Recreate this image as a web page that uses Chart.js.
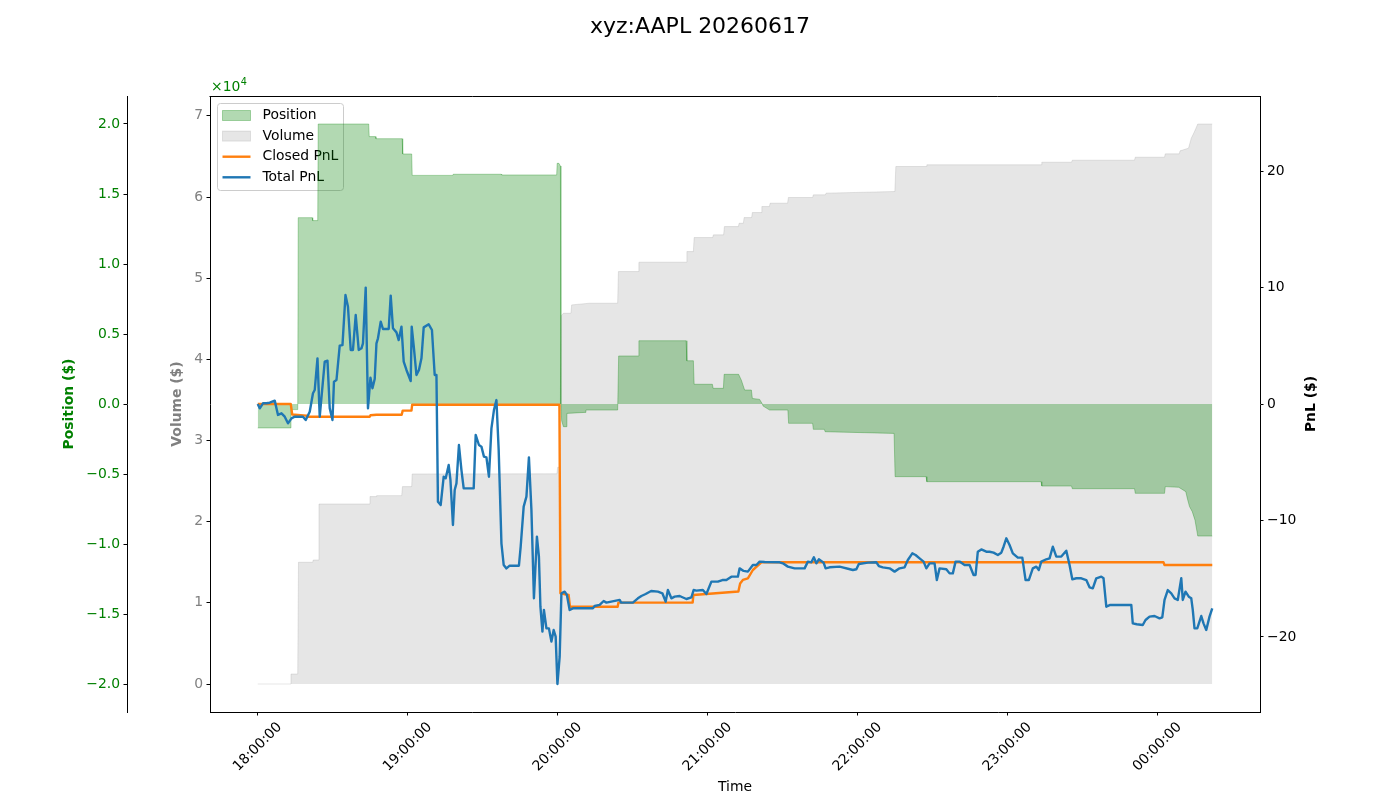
<!DOCTYPE html>
<html>
<head>
<meta charset="utf-8">
<title>xyz:AAPL 20260617</title>
<script src="https://cdn.jsdelivr.net/npm/chart.js@4.4.1/dist/chart.umd.min.js"></script>
<style>
  html, body { margin: 0; padding: 0; background: #fff; }
  #wrap { width: 1400px; height: 800px; }
</style>
</head>
<body>
<div id="wrap"><canvas id="pnl-chart" width="1400" height="800"></canvas></div>
<script>
const chartTitle = 'xyz:AAPL 20260617';

// x values are minutes after 18:00:00
const positionMinutes = [0, 13.1, 13.3, 16.0, 16.2, 21.8, 22.0, 24.0, 24.2, 44.4, 44.6, 47.1, 47.3, 57.8, 58.0, 61.6, 61.8, 78.0, 78.2, 97.4, 97.6, 119.6, 119.8, 120.5, 121.1, 121.3, 121.6, 122.3, 123.4, 123.7, 131.0, 131.3, 144.0, 144.4, 152.2, 152.5, 171.4, 171.7, 174.3, 174.6, 181.9, 182.2, 186.3, 186.6, 192.4, 193.5, 194.8, 197.5, 197.9, 200.8, 201.9, 202.2, 204.8, 212.1, 212.4, 222.0, 222.3, 226.7, 227.0, 254.6, 255.0, 267.4, 267.7, 313.4, 313.7, 325.6, 325.9, 350.8, 351.1, 362.8, 363.1, 368.5, 371.3, 372.0, 372.8, 373.9, 375.0, 376.1, 381.9];
const positionValues = [-1710, -1710, -400, -400, 13310, 13310, 13100, 13100, 20000, 20000, 19100, 19100, 18950, 18950, 17860, 17860, 16330, 16330, 16410, 16410, 16360, 16360, 17190, 17190, 17000, 0, -1200, -1620, -1620, -670, -600, -430, -430, 3430, 3430, 4520, 4520, 3090, 3090, 1410, 1410, 1120, 1120, 2120, 2120, 1700, 1000, 1000, 400, 330, 0, -150, -430, -430, -1380, -1380, -1810, -1810, -1980, -2100, -5190, -5190, -5550, -5550, -5860, -5860, -6050, -6050, -6380, -6380, -5900, -5950, -6260, -6800, -7330, -7690, -8300, -9430, -9430];

const volumeMinutes = [0, 13.1, 13.3, 16.0, 16.3, 22.0, 22.2, 24.2, 24.5, 44.7, 44.9, 47.4, 47.6, 57.6, 57.9, 61.6, 61.8, 119.7, 120.0, 120.8, 121.4, 122.3, 125.3, 125.6, 132.8, 144.0, 144.3, 152.2, 152.5, 171.4, 171.7, 174.3, 174.6, 182.0, 182.3, 186.4, 186.7, 192.3, 192.6, 194.3, 194.6, 197.6, 197.9, 201.4, 201.7, 204.7, 205.0, 212.0, 212.3, 222.0, 222.3, 227.1, 227.4, 254.9, 255.3, 267.4, 267.7, 313.4, 313.7, 325.6, 325.9, 350.8, 351.1, 362.8, 363.1, 368.7, 369.0, 372.4, 373.5, 374.8, 376.1, 381.9];
const volumeValues = [0, 0, 1230, 1230, 15000, 15000, 15280, 15280, 22180, 22180, 23090, 23090, 23210, 23210, 24320, 24320, 25880, 25900, 26700, 26700, 45390, 45680, 45680, 46710, 46920, 46920, 50820, 50820, 51970, 51970, 53280, 53280, 55010, 55010, 55340, 55340, 56360, 56360, 56770, 56770, 57470, 57470, 58090, 58090, 58830, 58830, 59240, 59240, 59940, 59940, 60270, 60270, 60480, 60680, 63760, 63760, 63970, 63970, 64290, 64290, 64540, 64540, 64910, 64910, 65320, 65320, 65690, 66020, 67250, 68070, 69000, 69000];

const closedMinutes = [0, 13.2, 13.8, 19.4, 19.6, 44.8, 45.1, 47.5, 57.6, 58.0, 61.5, 61.8, 120.7, 121.1, 124.4, 124.9, 144.0, 144.3, 174.0, 174.3, 192.3, 193.0, 194.1, 196.1, 198.1, 201.5, 362.4, 362.8, 381.9];
const closedPnl = [0, 0, -0.9, -1.0, -1.09, -1.09, -0.97, -0.92, -0.92, -0.57, -0.57, -0.06, -0.06, -16.25, -16.4, -17.4, -17.4, -17.05, -17.05, -16.4, -16.1, -15.4, -15.1, -14.96, -14.25, -13.59, -13.59, -13.82, -13.82];

const totalMinutes = [0, 0.8, 2.1, 3.5, 4.8, 6.8, 8.1, 9.5, 10.8, 12.1,
  13.5, 14.8, 18.1, 19.2, 20.8, 22.1, 22.8, 23.9, 24.8, 26.8,
  27.9, 28.8, 29.9, 30.5, 31.5, 32.8, 33.9, 35.1, 36.1, 37.2,
  38.1, 39.2, 40.4, 41.5, 42.1, 43.2, 44.1, 45.1, 45.9, 46.8,
  47.5, 48.1, 49.2, 50.1, 52.4, 53.2, 54.1, 55.5, 56.4, 57.5,
  58.4, 59.5, 61.2, 61.6, 62.5, 63.5, 64.5, 65.5, 66.4, 68.4,
  69.7, 70.8, 71.5, 72.1, 73.2, 74.4, 75.2, 76.4, 77.1, 78.1,
  78.8, 79.5, 80.5, 81.5, 82.4, 86.4, 87.2, 88.5, 89.5, 90.5,
  91.5, 92.5, 93.5, 94.5, 95.5, 96.4, 97.5, 98.4, 99.5, 100.8,
  104.5, 105.2, 106.4, 107.5, 108.5, 109.5, 110.5, 111.7, 112.5, 113.1,
  113.9, 114.5, 115.5, 116.5, 117.5, 118.4, 119.2, 119.9, 120.8, 121.5,
  122.8, 123.7, 124.8, 126.1, 134.1, 134.8, 136.8, 138.4, 139.5, 144.8,
  145.4, 150.1, 152.1, 153.5, 155.2, 157.4, 160.1, 161.9, 163.2, 164.1,
  165.5, 166.8, 168.8, 171.5, 173.5, 174.4, 175.5, 178.1, 179.5, 181.5,
  184.1, 185.9, 187.5, 189.5, 192.1, 192.8, 194.4, 196.1, 198.1, 199.5,
  200.8, 202.8, 208.8, 210.1, 212.1, 214.8, 218.8, 220.1, 221.5, 222.5,
  223.5, 224.5, 226.4, 227.2, 228.8, 232.8, 238.1, 239.5, 240.5, 244.1,
  247.5, 248.5, 250.1, 252.8, 254.8, 256.8, 258.8, 260.1, 261.9, 263.2,
  264.8, 266.4, 267.5, 268.8, 270.8, 271.7, 272.8, 275.5, 276.8, 278.1,
  279.2, 280.8, 282.8, 284.8, 286.4, 287.2, 288.1, 289.5, 291.5, 292.8,
  294.4, 296.1, 297.5, 298.4, 299.5, 300.8, 302.1, 304.1, 305.9, 307.2,
  308.5, 310.1, 311.5, 312.5, 313.5, 315.5, 316.8, 318.1, 319.5, 321.5,
  323.5, 324.8, 325.9, 327.5, 329.5, 331.5, 332.8, 334.1, 335.5, 337.5,
  338.4, 339.5, 341.1, 349.5, 350.1, 351.7, 354.1, 355.2, 356.8, 358.8,
  360.8, 361.9, 362.8, 364.1, 365.5, 366.8, 368.1, 369.5, 370.1, 371.2,
  372.5, 373.5, 374.1, 374.8, 375.9, 377.5, 378.4, 379.5, 380.8, 381.9];
const totalPnl = [0, -0.37, 0.06, 0.06, 0.11, 0.29, -0.94, -0.8, -1.09, -1.66,
  -1.23, -1.09, -1.09, -1.37, -0.66, 0.92, 1.2, 3.92, -1.09, 3.63,
  3.72, -0.37, -1.37, 1.92, 2.06, 5.01, 5.06, 9.36, 8.35, 4.64,
  4.64, 7.64, 4.64, 4.78, 5.21, 9.99, -0.37, 2.26, 1.35, 2.15,
  5.21, 5.64, 7.07, 6.44, 6.44, 9.3, 6.5, 6.15, 5.49, 6.64,
  3.63, 2.92, 1.97, 6.64, 4.78, 2.49, 2.92, 3.92, 6.58, 6.84,
  6.35, 2.49, 2.49, -8.38, -8.67, -6.24, -6.38, -5.24, -6.52, -10.39,
  -7.38, -6.81, -3.52, -5.67, -7.24, -7.24, -2.66, -3.52, -3.66, -4.52,
  -4.58, -6.24, -2.09, -0.52, 0.34, -3.95, -11.96, -13.82, -14.11, -13.88,
  -13.88, -12.25, -8.81, -7.95, -4.58, -9.1, -16.68, -11.39, -13.1, -17.4,
  -19.54, -17.68, -19.26, -19.26, -20.4, -19.4, -19.97, -24.04, -21.69, -16.25,
  -16.11, -16.39, -17.68, -17.54, -17.54, -17.34, -17.25, -16.91, -17.05, -16.82,
  -17.05, -17.05, -16.68, -16.48, -16.31, -16.05, -16.11, -16.25, -16.97, -15.97,
  -16.68, -16.54, -16.48, -16.74, -16.6, -15.97, -16.02, -15.97, -16.31, -15.25,
  -15.25, -15.11, -15.11, -14.82, -14.82, -14.11, -14.33, -14.39, -13.82, -13.82,
  -13.53, -13.56, -13.59, -13.68, -13.96, -14.11, -14.11, -13.53, -13.59, -13.16,
  -13.68, -13.33, -13.62, -14.11, -14.02, -13.96, -14.25, -14.19, -13.73, -13.62,
  -13.59, -13.91, -14.02, -14.11, -14.39, -14.11, -14.02, -13.39, -12.82, -12.96,
  -13.25, -13.53, -14.11, -13.68, -13.68, -15.11, -14.11, -14.19, -14.54, -14.54,
  -13.53, -13.53, -13.82, -13.82, -14.68, -14.68, -12.68, -12.48, -12.68, -12.68,
  -12.76, -12.96, -12.76, -12.25, -11.53, -12.1, -12.82, -13.19, -13.19, -15.11,
  -15.11, -14.11, -13.96, -14.25, -13.53, -13.33, -13.25, -12.25, -13.1, -13.1,
  -12.59, -13.82, -15.05, -14.96, -14.96, -15.11, -15.74, -15.82, -14.96, -14.82,
  -14.96, -17.4, -17.25, -17.25, -18.83, -18.91, -18.97, -18.54, -18.25, -18.2,
  -18.4, -18.31, -16.82, -15.97, -16.25, -16.68, -16.82, -14.96, -16.82, -16.11,
  -16.54, -16.68, -17.68, -19.26, -19.26, -18.2, -18.83, -19.4, -18.25, -17.54];

const timeTicks = [0, 60, 120, 180, 240, 300, 360];
const positionTicks = [-20000, -15000, -10000, -5000, 0, 5000, 10000, 15000, 20000];
const volumeTicks = [0, 10000, 20000, 30000, 40000, 50000, 60000, 70000];
const pnlTicks = [-20, -10, 0, 10, 20];

const GREEN = '#008000';
const GRAY = '#808080';
const FS = 13.9;

Chart.defaults.font.family = "'DejaVu Sans', sans-serif";
Chart.defaults.color = '#000';

function toPoints(xs, ys) {
    return xs.map((x, i) => ({ x: x, y: ys[i] }));
}

function clockLabel(minutes) {
    const total = (18 * 60 + minutes) % (24 * 60);
    const h = Math.floor(total / 60);
    const m = Math.round(total % 60);
    return String(h).padStart(2, '0') + ':' + String(m).padStart(2, '0') + ':00';
}

function mplNumber(v, digits) {
    return v.toFixed(digits).replace('-', '\u2212');
}

function fixedTicks(values) {
    return function(scale) {
        scale.ticks = values.map(v => ({ value: v }));
    };
}

function tickGrid() {
    return { drawOnChartArea: false, drawTicks: true, tickLength: 3.5, tickColor: '#000', tickWidth: 1 };
}

// legend order as in the original: Position, Volume, Closed PnL, Total PnL
function drawLegend(chart) {
    const ctx = chart.ctx;
    const x0 = 217.5, y0 = 103.5, w = 126, h = 87, r = 3;
    ctx.save();
    ctx.beginPath();
    ctx.moveTo(x0 + r, y0);
    ctx.arcTo(x0 + w, y0, x0 + w, y0 + h, r);
    ctx.arcTo(x0 + w, y0 + h, x0, y0 + h, r);
    ctx.arcTo(x0, y0 + h, x0, y0, r);
    ctx.arcTo(x0, y0, x0 + w, y0, r);
    ctx.closePath();
    ctx.fillStyle = 'rgba(255,255,255,0.8)';
    ctx.fill();
    ctx.strokeStyle = '#cccccc';
    ctx.lineWidth = 1;
    ctx.stroke();

    ctx.font = FS + "px 'DejaVu Sans'";
    ctx.textBaseline = 'middle';
    ctx.textAlign = 'left';
    chart.data.datasets.forEach((ds, i) => {
        const cy = 115.5 + i * 20.6;
        if (ds.fill) {
            ctx.fillStyle = ds.backgroundColor;
            ctx.fillRect(222.5, cy - 5, 28, 10);
            ctx.strokeStyle = ds.borderColor;
            ctx.strokeRect(222.5, cy - 5, 28, 10);
        } else {
            ctx.strokeStyle = ds.borderColor;
            ctx.lineWidth = ds.borderWidth;
            ctx.beginPath();
            ctx.moveTo(222.5, cy);
            ctx.lineTo(250.5, cy);
            ctx.stroke();
            ctx.lineWidth = 1;
        }
        ctx.fillStyle = '#000';
        ctx.fillText(ds.label, 262.5, cy);
    });
    ctx.restore();
}

const extras = {
    id: 'extras',
    afterDatasetDraw(chart, args) {
        // legend sits on top of the volume area but under the position fill
        if (chart.data.datasets[args.index].label === 'Volume') drawLegend(chart);
    },
    afterDraw(chart) {
        const ctx = chart.ctx;
        const a = chart.chartArea;
        ctx.save();
        ctx.strokeStyle = '#000';
        ctx.lineWidth = 1;
        ctx.beginPath();
        ctx.moveTo(Math.round(a.left) - 0.5, Math.round(a.top) + 0.5);
        ctx.lineTo(Math.round(a.right) + 0.5, Math.round(a.top) + 0.5);
        ctx.stroke();

        // right axis title, reading bottom to top
        ctx.translate(1311, (a.top + a.bottom) / 2);
        ctx.rotate(-Math.PI / 2);
        ctx.font = "bold " + FS + "px 'DejaVu Sans'";
        ctx.textAlign = 'center';
        ctx.textBaseline = 'middle';
        ctx.fillStyle = '#000';
        ctx.fillText('PnL ($)', 0, 0);
        ctx.restore();

        // offset text of the position axis
        ctx.save();
        ctx.fillStyle = GREEN;
        ctx.textBaseline = 'middle';
        ctx.textAlign = 'left';
        ctx.font = FS + "px 'DejaVu Sans'";
        ctx.fillText('\u00d710', 211, 87);
        const w = ctx.measureText('\u00d710').width;
        ctx.font = "9.7px 'DejaVu Sans'";
        ctx.fillText('4', 211 + w + 0.5, 82);
        ctx.restore();
    }
};

new Chart(
    document.getElementById('pnl-chart'),
    {
        type: 'line',
        data: {
            datasets: [
                {
                    label: 'Position',
                    data: toPoints(positionMinutes, positionValues),
                    yAxisID: 'yPos',
                    fill: 'origin',
                    backgroundColor: 'rgba(0,128,0,0.3)',
                    borderColor: 'rgba(0,128,0,0.3)',
                    borderWidth: 1,
                    pointRadius: 0,
                    order: 3
                },
                {
                    label: 'Volume',
                    data: toPoints(volumeMinutes, volumeValues),
                    yAxisID: 'yVol',
                    fill: 'origin',
                    backgroundColor: 'rgba(128,128,128,0.2)',
                    borderColor: 'rgba(128,128,128,0.2)',
                    borderWidth: 1,
                    pointRadius: 0,
                    order: 4
                },
                {
                    label: 'Closed PnL',
                    data: toPoints(closedMinutes, closedPnl),
                    yAxisID: 'yPnl',
                    fill: false,
                    borderColor: '#ff7f0e',
                    borderWidth: 2.4,
                    borderJoinStyle: 'round',
                    pointRadius: 0,
                    order: 2
                },
                {
                    label: 'Total PnL',
                    data: toPoints(totalMinutes, totalPnl),
                    yAxisID: 'yPnl',
                    fill: false,
                    borderColor: '#1f77b4',
                    borderWidth: 2.4,
                    borderJoinStyle: 'round',
                    pointRadius: 0,
                    order: 1
                }
            ]
        },
        options: {
            responsive: false,
            animation: false,
            events: [],
            layout: {
                padding: 0
            },
            plugins: {
                legend: { display: false },
                tooltip: { enabled: false },
                title: {
                    display: true,
                    text: chartTitle,
                    color: '#000',
                    font: { size: 22, weight: 'normal' },
                    padding: { top: 14, bottom: 55.6 }
                }
            },
            scales: {
                x: {
                    type: 'linear',
                    position: 'bottom',
                    min: -19.1,
                    max: 401.0,
                    afterBuildTicks: fixedTicks(timeTicks),
                    afterFit: function(scale) { scale.height = 88; },
                    grid: tickGrid(),
                    border: { display: true, color: '#000', width: 1 },
                    ticks: {
                        autoSkip: false,
                        minRotation: 45,
                        maxRotation: 45,
                        labelOffset: 22,
                        padding: 3.5,
                        color: '#000',
                        font: { size: FS },
                        callback: function(value) { return clockLabel(value); }
                    },
                    title: {
                        display: true,
                        text: 'Time',
                        color: '#000',
                        font: { size: FS },
                        padding: { top: 4, bottom: 4 }
                    }
                },
                yPos: {
                    type: 'linear',
                    position: 'left',
                    weight: 1,
                    min: -22000,
                    max: 22000,
                    afterBuildTicks: fixedTicks(positionTicks),
                    afterFit: function(scale) { scale.width = 127; },
                    grid: tickGrid(),
                    border: { display: true, color: '#000', width: 1 },
                    ticks: {
                        padding: 3.5,
                        color: GREEN,
                        font: { size: FS },
                        callback: function(value) { return mplNumber(value / 10000, 1); }
                    },
                    title: {
                        display: true,
                        text: 'Position ($)',
                        color: GREEN,
                        font: { size: FS, weight: 'bold' },
                        padding: { top: 60.6, bottom: 4 }
                    }
                },
                yVol: {
                    type: 'linear',
                    position: 'left',
                    weight: 0,
                    min: -3450,
                    max: 72450,
                    afterBuildTicks: fixedTicks(volumeTicks),
                    afterFit: function(scale) { scale.width = 83; },
                    grid: tickGrid(),
                    border: { display: true, color: '#000', width: 1 },
                    ticks: {
                        padding: 3.5,
                        color: GRAY,
                        font: { size: FS },
                        callback: function(value) { return String(value / 10000); }
                    },
                    title: {
                        display: true,
                        text: 'Volume ($)',
                        color: GRAY,
                        font: { size: FS, weight: 'bold' },
                        padding: { top: 41.6, bottom: 4 }
                    }
                },
                yPnl: {
                    type: 'linear',
                    position: 'right',
                    min: -26.44,
                    max: 26.44,
                    afterBuildTicks: fixedTicks(pnlTicks),
                    afterFit: function(scale) { scale.width = 140; },
                    grid: tickGrid(),
                    border: { display: true, color: '#000', width: 1 },
                    ticks: {
                        padding: 3.5,
                        color: '#000',
                        font: { size: FS },
                        callback: function(value) { return mplNumber(value, 0); }
                    }
                }
            }
        },
        plugins: [extras]
    }
);
</script>
</body>
</html>
